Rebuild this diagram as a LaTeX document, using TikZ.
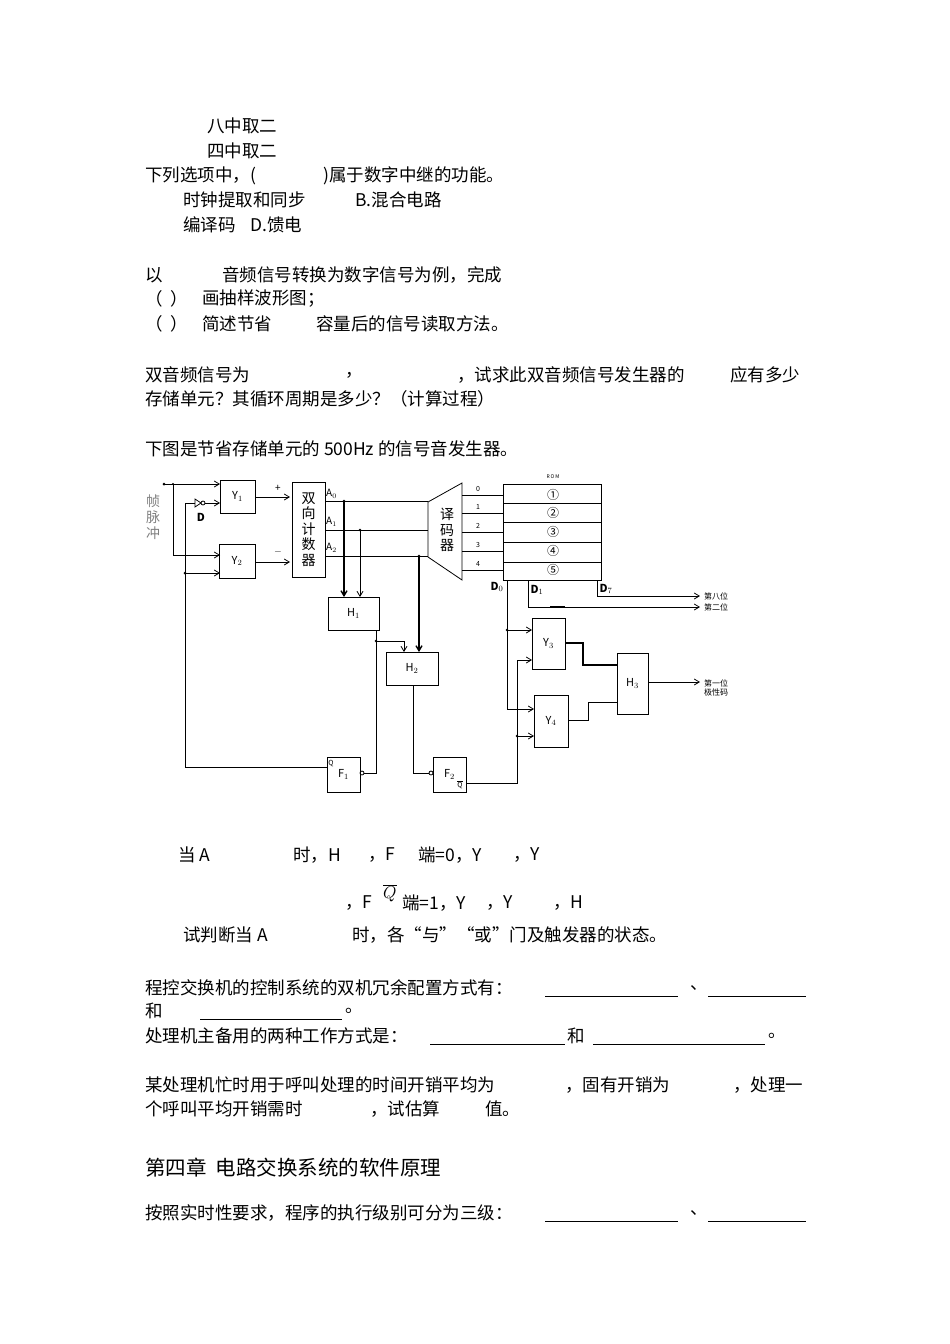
\documentclass[tikz,border=0pt]{standalone}
\usepackage{fontspec}
\setmainfont{Noto Sans CJK SC}
\usetikzlibrary{arrows.meta}
\begin{document}
\begin{tikzpicture}[x=1pt,y=-1pt,
  t/.style={anchor=west,inner sep=0pt,font=\fontsize{17.5}{19}\selectfont},
  s/.style={inner sep=0pt,font=\fontsize{10}{11}\selectfont},
  bx/.style={draw,thick,inner sep=0pt,font=\fontsize{11}{12}\selectfont},
  w/.style={line width=0.8pt},
  ar/.style={w,-{Straight Barb[length=5pt,width=6pt]}},
  ul/.style={line width=0.7pt}]
\useasboundingbox (0,0) rectangle (950,1344);
% text lines
\node[t] (l1) at (207,126) {八中取二};
\node[t] (l2) at (207,151) {四中取二};
\node[t] (l3a) at (145,176) {下列选项中，(};
\node[t] (l3b) at (323,176) {)属于数字中继的功能。};
\node[t] (l4a) at (183,200) {时钟提取和同步};
\node[t] (l4b) at (355,200) {B.混合电路};
\node[t] (l5a) at (183,225) {编译码};
\node[t] (l5b) at (250,225) {D.馈电};
\node[t] (l6a) at (145,275) {以};
\node[t] (l6b) at (222,275) {音频信号转换为数字信号为例，完成};
\node[t] (l7a) at (145,299) {（\ \ ）};
\node[t] (l7b) at (202,299) {画抽样波形图；};
\node[t] (l8a) at (145,324) {（\ \ ）};
\node[t] (l8b) at (202,324) {简述节省};
\node[t] (l8c) at (316,324) {容量后的信号读取方法。};
\node[t] (l9a) at (145,375) {双音频信号为};
\node[t] (l9b) at (345,375) {，};
\node[t] (l9c) at (457,375) {，试求此双音频信号发生器的};
\node[t] (l9d) at (730,375) {应有多少};
\node[t] (l10) at (145,399) {存储单元？其循环周期是多少？（计算过程）};
\node[t] (l11) at (145,449) {下图是节省存储单元的 500Hz 的信号音发生器。};
\node[t] (q1a) at (178,855) {当 A};
\node[t] (q1b) at (293,855) {时，H};
\node[t] (q1c) at (368,855) {，F};
\node[t] (q1d) at (418,855) {端=0，Y};
\node[t] (q1e) at (513,855) {，Y};
\node[t] (q2a) at (345,903) {，F};
\node[t] (q2q) at (383,893) {$\overline{Q}$};
\node[t] (q2b) at (402,903) {端=1，Y};
\node[t] (q2c) at (486,903) {，Y};
\node[t] (q2d) at (553,903) {，H};
\node[t] (q3a) at (183,935) {试判断当 A};
\node[t] (q3b) at (352,935) {时，各“与”“或”门及触发器的状态。};
\node[t] (r1) at (145,988) {程控交换机的控制系统的双机冗余配置方式有：};
\node[t] (r1b) at (690,988) {、};
\node[t] (r2) at (145,1011) {和};
\node[t] (r2b) at (345,1011) {。};
\node[t] (r3) at (145,1036) {处理机主备用的两种工作方式是：};
\node[t] (r3b) at (567,1036) {和};
\node[t] (r3c) at (768,1036) {。};
\node[t] (r4a) at (145,1085) {某处理机忙时用于呼叫处理的时间开销平均为};
\node[t] (r4b) at (565,1085) {，固有开销为};
\node[t] (r4c) at (733,1085) {，处理一};
\node[t] (r5a) at (145,1109) {个呼叫平均开销需时};
\node[t] (r5b) at (370,1109) {，试估算};
\node[t] (r5c) at (485,1109) {值。};
\node[t,font=\fontsize{20.5}{22}\selectfont] (ch) at (145,1168) {第四章\ \ 电路交换系统的软件原理};
\node[t] (r6) at (145,1213) {按照实时性要求，程序的执行级别可分为三级：};
\node[t] (r6b) at (690,1213) {、};
\draw[ul] (545,996)--(678,996) (708,996)--(806,996) (200,1019)--(342,1019)
 (430,1044)--(565,1044) (593,1044)--(765,1044) (545,1221)--(678,1221) (708,1221)--(806,1221);
% ---- diagram ----
\node[s,font=\fontsize{14}{16}\selectfont,text=gray,align=center] (zhen) at (153,517) {帧\\脉\\冲};
\node[bx,minimum width=35pt,minimum height=33pt] (Y1) at (237.5,496.5) {Y$_1$};
\node[bx,minimum width=36pt,minimum height=34pt] (Y2) at (237,561) {Y$_2$};
\node[bx,minimum width=33pt,minimum height=95pt,align=center,font=\fontsize{14}{15.5}\selectfont] (CNT) at (308.5,529.5) {双\\向\\计\\数\\器};
\node[s,anchor=west] (A0) at (326,494) {A$_0$};
\node[s,anchor=west] (A1) at (326,522) {A$_1$};
\node[s,anchor=west] (A2) at (326,548) {A$_2$};
\coordinate (in) at (164,484);
\fill (in) circle (1.5pt);
\fill (173,484) circle (1.2pt);
\draw[ar] (in)--(220,484);
\draw[ar] (173,484)--(173,555)--(220,555);
% inverter D
\draw[w] (195,499)--(195,507)--(201,503)--cycle;
\draw[w] (203,503) circle (2pt);
\node[s,font=\fontsize{11}{12}\selectfont\bfseries] (Dl) at (201,517) {D};
\draw[ar] (205,503)--(220,503);
\draw[w] (185,503)--(195,503);
\fill (185,573) circle (1.5pt);
\draw[ar] (185,573)--(220,573);
\draw[ar] (Y1.east |- 0,497)--(290,497);
\node[s] at (278,488) {+};
\draw[ar] (Y2.east |- 0,562)--(290,562);
\node[s] at (278,552) {$-$};
% decoder
\draw[thick] (428,502)--(462,483)--(462,580)--(428,557)--cycle;
\node[align=center,inner sep=0pt,font=\fontsize{14}{15.5}\selectfont] (DEC) at (447,530) {译\\码\\器};
\draw[w] (325,501)--(428,501) (325,530)--(428,530) (325,556)--(428,556);
% ROM
\draw[thick] (503,484) rectangle (601,580);
\foreach \yy in {503,522,542,562} \draw[w] (503,\yy)--(601,\yy);
\node[s,font=\fontsize{5}{6}\selectfont] (romlab) at (553,477) {R\,O\,M};
\foreach \i/\yy/\c in {0/495/①,1/513/②,2/532/③,3/551/④,4/570/⑤}{
  \node[s,font=\fontsize{12}{13}\selectfont] at (553,\yy) {\c};
  \draw[w] (462,\yy)--(503,\yy);
  \node[s,font=\fontsize{7}{8}\selectfont] at (478,\yy-6) {\i};}
% H1 H2
\node[bx,minimum width=51pt,minimum height=33pt] (H1) at (353.5,613.5) {H$_1$};
\node[bx,minimum width=52pt,minimum height=33pt] (H2) at (412,668.5) {H$_2$};
\fill (344,501) circle (1.3pt) (360,530) circle (1.3pt) (419,556) circle (1.3pt);
\draw[ar,line width=1.4pt] (344,501)--(344,597);
\draw[ar] (360,530)--(360,597);
\draw[ar,line width=1.4pt] (419,556)--(419,652);
% F1 F2
\node[bx,minimum width=33pt,minimum height=35pt] (F1) at (343.5,774.5) {F$_1$};
\node[bx,minimum width=33pt,minimum height=35pt] (F2) at (449.5,774.5) {F$_2$};
\node[s,font=\fontsize{7}{8}\selectfont] at (331,764) {Q};
\node[s,font=\fontsize{7}{8}\selectfont] at (460,785) {$\overline{\mathrm{Q}}$};
\draw[w] (362,773) circle (2pt);
\draw[w] (431,773) circle (2pt);
\draw[w] (376,630)--(376,773)--(364,773);
\fill (376,641) circle (1.3pt);
\draw[ar] (376,641)--(404,641)--(404,652);
\draw[w] (413,685)--(413,773)--(429,773);
\draw[w] (327,767)--(185,767)--(185,503);
% D outputs
\node[s,font=\fontsize{11}{12}\selectfont\bfseries] at (497,587) {D$_0$};
\node[s,font=\fontsize{11}{12}\selectfont\bfseries] at (537,590) {D$_1$};
\node[s,font=\fontsize{11}{12}\selectfont\bfseries] at (606,589) {D$_7$};
\draw[ar] (597,580)--(597,596)--(700,596);
\draw[ar] (528,580)--(528,607)--(700,607);
\draw[line width=1.2pt] (550,607)--(565,607);
\node[s,anchor=west,font=\fontsize{8}{9}\selectfont] at (704,596) {第八位};
\node[s,anchor=west,font=\fontsize{8}{9}\selectfont] at (704,607) {第二位};
% Y3 Y4 H3
\node[bx,minimum width=33pt,minimum height=51pt] (Y3) at (548.5,643.5) {Y$_3$};
\node[bx,minimum width=34pt,minimum height=52pt] (Y4) at (551,721) {Y$_4$};
\node[bx,minimum width=31pt,minimum height=61pt] (H3) at (632.5,683.5) {H$_3$};
\draw[w] (507,580)--(507,709);
\fill (507,630) circle (1.3pt);
\draw[ar] (507,630)--(532,630);
\draw[ar] (507,709)--(534,709);
\draw[w] (466,783)--(517,783)--(517,660);
\draw[ar] (517,660)--(532,660);
\fill (517,736) circle (1.3pt);
\draw[ar] (517,736)--(534,736);
\draw[line width=1.2pt] (565,643)--(583,643)--(583,665)--(617,665);
\draw[w] (568,720)--(588,720)--(588,702)--(617,702);
\draw[ar] (648,682)--(700,682);
\node[s,anchor=west,align=left,font=\fontsize{8}{9}\selectfont] at (704,688) {第一位\\极性码};
\end{tikzpicture}
\end{document}
